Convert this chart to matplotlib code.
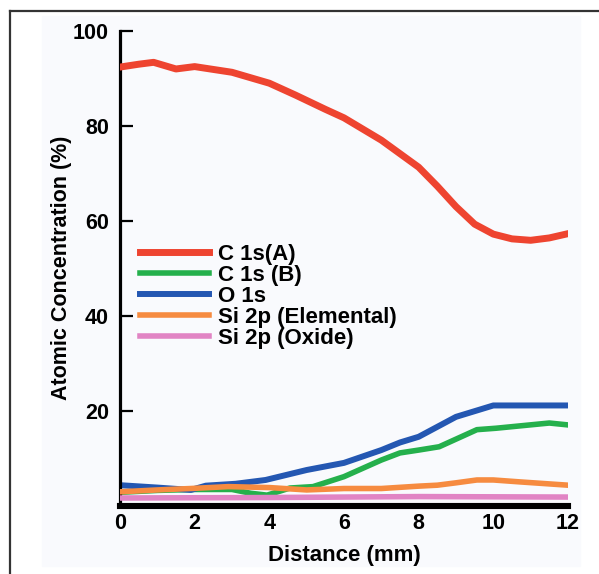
"""
XPS atomic concentration profile vs distance
"""

import matplotlib.pyplot as plt
from matplotlib.lines import Line2D
from matplotlib.patches import Rectangle

plt.rcParams['font.family'] = ['Liberation Sans', 'DejaVu Sans']
plt.rcParams['font.weight'] = 'bold'

# values
x_c1s_a = [0, 0.5, 0.9, 1.5, 2.0, 3.0, 4.0, 4.7, 5.5, 6.0, 7.0, 8.0, 8.5, 9.0, 9.5, 10.0, 10.5, 11.0, 11.5, 12.0]
c1s_a = [92.4, 93.0, 93.4, 92.0, 92.5, 91.3, 89.0, 86.5, 83.5, 81.7, 77.0, 71.3, 67.3, 63.0, 59.3, 57.2, 56.2, 55.9, 56.4, 57.3]

x_c1s_b = [0, 1, 2, 3, 3.5, 3.94, 4.55, 5.17, 6.0, 7.0, 7.5, 8.0, 8.55, 9.56, 10.07, 11.5, 12.0]
c1s_b = [2.8, 3.2, 3.4, 3.4, 2.6, 2.2, 3.7, 4.0, 6.1, 9.6, 11.1, 11.7, 12.4, 16.0, 16.3, 17.4, 17.0]

x_o1s = [0, 1, 1.9, 2.3, 3.1, 3.9, 5.0, 6.0, 7.0, 7.5, 8.0, 9.0, 10.0, 12.0]
o1s = [4.3, 3.8, 3.3, 4.2, 4.6, 5.4, 7.5, 9.0, 11.7, 13.3, 14.5, 18.7, 21.1, 21.1]

x_si_el = [0, 1, 1.9, 2.9, 4.0, 5.0, 6.0, 7.0, 8.0, 8.5, 9.0, 9.56, 10.0, 10.7, 12.0]
si_el = [2.9, 3.3, 3.6, 4.0, 3.8, 3.3, 3.6, 3.6, 4.1, 4.3, 4.8, 5.4, 5.4, 5.0, 4.3]

x_si_ox = [0, 4, 8, 12]
si_ox = [1.6, 1.7, 1.9, 1.8]

rotulos = ["C 1s(A)", "C 1s (B)", "O 1s", "Si 2p (Elemental)", "Si 2p (Oxide)"]
cores = ["#ee4430", "#25b04c", "#2457b2", "#f68b40", "#e184c4"]

######################################################################

fig = plt.figure(figsize=(5.99, 5.74), dpi=100)

# fundo e moldura
fig.add_artist(Rectangle((42/599, 1-566/574), 538/599, 550/574,
                         transform=fig.transFigure, color="#f9fafd", zorder=-5))
fig.add_artist(Line2D([10/599, 1], [1-11/574, 1-11/574], color="#333333", lw=1.6, zorder=-4))
fig.add_artist(Line2D([10/599, 10/599], [0, 1-11/574], color="#333333", lw=1.6, zorder=-4))

ax = fig.add_axes([120/599, 68.4/574, 448/599, 474.6/574])
ax.patch.set_visible(False)

l_a, = ax.plot(x_c1s_a, c1s_a, color=cores[0], lw=5, zorder=3)
l_b, = ax.plot(x_c1s_b, c1s_b, color=cores[1], lw=4, zorder=2)
l_o, = ax.plot(x_o1s, o1s, color=cores[2], lw=4.3, zorder=2.5)
l_e, = ax.plot(x_si_el, si_el, color=cores[3], lw=4, zorder=3)
l_x, = ax.plot(x_si_ox, si_ox, color=cores[4], lw=4, zorder=3.2)

ax.set_xlim(0, 12)
ax.set_ylim(0, 100)
ax.set_xticks(range(0, 13, 2))
ax.set_xticks(range(0, 13), minor=True)
ax.set_yticks([20, 40, 60, 80, 100])

for lado in ["top", "right"]:
    ax.spines[lado].set_visible(False)
ax.spines["left"].set_linewidth(2.3)
ax.spines["bottom"].set_linewidth(4.4)
ax.spines["bottom"].set_zorder(4)

ax.tick_params(axis="y", direction="in", length=9, width=1.6, labelsize=15.5, pad=8)
ax.tick_params(axis="x", which="both", direction="out", length=2.5, width=1.5,
               labelsize=15.5, pad=3)

ax.set_xlabel("Distance (mm)", fontsize=16, fontweight="bold", labelpad=8)
ax.set_ylabel("Atomic Concentration (%)", fontsize=15.5, fontweight="bold", labelpad=1)

ax.legend([l_a, l_b, l_o, l_e, l_x], rotulos, loc="upper left",
          bbox_to_anchor=(140/599, 1-244/574), bbox_transform=fig.transFigure,
          frameon=False, fontsize=16, handlelength=3.1, handletextpad=0.4,
          labelspacing=0.0, borderpad=0, borderaxespad=0)

plt.savefig("out.png", dpi=100)
